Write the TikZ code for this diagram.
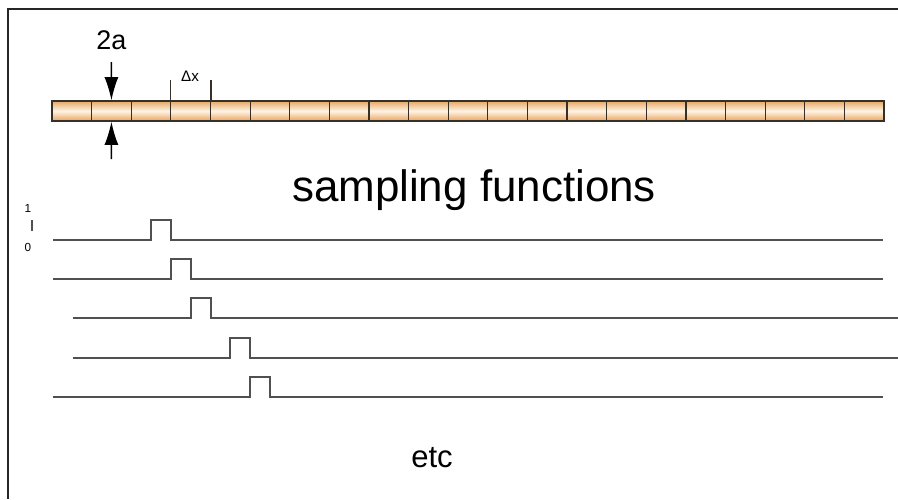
\documentclass[tikz,border=0pt]{standalone}
\usepackage{fontspec}
\setmainfont{Liberation Sans}
\usetikzlibrary{arrows.meta}
\definecolor{rodtop}{RGB}{230,168,100}
\definecolor{rodmid}{RGB}{255,244,228}
\definecolor{rodbot}{RGB}{234,164,90}
\definecolor{rodedge}{RGB}{55,48,40}
\definecolor{sigline}{RGB}{80,80,80}
\tikzset{
  cell/.style={draw=rodedge, line width=1pt, minimum width=1.1886cm, minimum height=0.6cm, inner sep=0pt,
    top color=rodtop, bottom color=rodbot, middle color=rodmid},
  pulse/.style={draw=sigline, line width=1.5pt},
  squeeze/.style={line width=1.3pt, -{Latex[length=0.7cm,width=0.42cm]}}
}
\begin{document}
\begin{tikzpicture}[x=0.03cm, y=-0.03cm]
\useasboundingbox (0,0) rectangle (898,499);
\draw[line width=2.5pt, black!85] (8,499) -- (8,9) -- (898,9);
% rod, cut into cells
\foreach \i in {0,...,20}
  \node[cell] (c\i) at ({71.81+39.62*\i},111) {};
\node[font=\fontsize{23}{23}\selectfont] (twoa) at (111.4,40) {2a};
\coordinate (atop) at (111.4,62);
\coordinate (abot) at (111.4,159);
\draw[squeeze] (atop) -- (c1.north);
\draw[squeeze] (abot) -- (c1.south);
\draw[line width=1pt, rodedge] (c3.north west) -- ++(0,-20);
\draw[line width=1pt, rodedge] (c3.north east) -- ++(0,-20);
\node[font=\fontsize{13}{13}\selectfont] (dx) at (190,76) {Δx};
\node[font=\fontsize{37.5}{37.5}\selectfont] (title) at (474,190) {sampling functions};
% scale mark
\node[font=\fontsize{10}{10}\selectfont] (one) at (28,208) {1};
\node[font=\fontsize{10}{10}\selectfont] (zero) at (28,247) {0};
\draw[line width=1.2pt, sigline] (32,220) -- (32,231);
% sampling functions
\foreach \xa/\xb/\yb/\p in {53/883/240/151, 53/883/279/171, 73/898/318/191, 73/898/358/230, 53/883/397/250}
  \draw[pulse] (\xa,\yb) -- (\p,\yb) -- ++(0,-20) -- ++(20,0) -- ++(0,20) -- (\xb,\yb);
\node[font=\fontsize{26.5}{26.5}\selectfont] (etc) at (432,458) {etc};
\end{tikzpicture}
\end{document}
